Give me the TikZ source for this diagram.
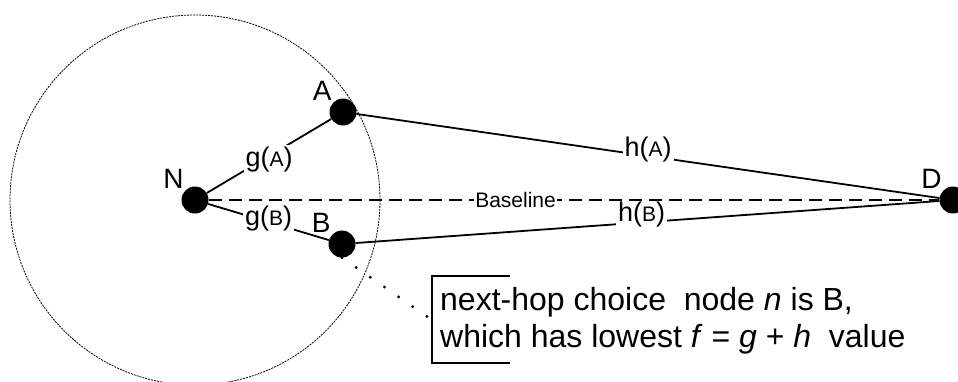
\documentclass[tikz,border=0pt]{standalone}
\usepackage{fontspec}
\setmainfont{Liberation Sans}

\newcommand{\costof}[2]{#1({\fontsize{21}{21}\selectfont #2})}

\begin{document}
\begin{tikzpicture}[x=1pt, y=-1pt,
		hop/.style={circle, fill=black, inner sep=0pt, minimum size=27pt},
		hoptag/.style={font=\fontsize{28}{28}\selectfont, inner sep=1.5pt},
		costline/.style={line width=1.8pt},
		cost/.style={fill=white, inner sep=2pt, font=\fontsize{27}{27}\selectfont},
		reach/.style={line width=0.8pt, dash pattern=on 2pt off 1pt},
		baseln/.style={line width=1.4pt, dash pattern=on 13pt off 7pt},
		hint/.style={line width=3.2pt, line cap=round, dash pattern=on 0pt off 17.2pt}]
		\useasboundingbox (0,0) rectangle (958,381);

		% Nodes
		\node (N) [hop, label={[hoptag]above left:N}] at (195,200) {};
		\node (A) [hop, label={[hoptag]above left:A}] at (343,112) {};
		\node (B) [hop, label={[hoptag]above left:B}] at (342,244) {};
		\node (D) [hop, label={[hoptag]above left:D}] at (953,200) {};

		% Neighbourhood of N
		\draw[reach] (N.center) circle[radius=185];

		% Costs
		\draw[costline] (N) -- node[cost, yshift=-4pt] {\costof{g}{A}} (A);
		\draw[costline] (N) -- node[cost, yshift=3pt] {\costof{g}{B}} (B);
		\draw[costline] (A) -- node[cost, yshift=6pt] {\costof{h}{A}} (D);
		\draw[costline] (B) -- node[cost, xshift=-6pt, yshift=7pt] {\costof{h}{B}} (D);

		% Baseline
		\draw[baseln] (N) -- node[pos=0.42, fill=white, inner sep=1pt, font=\fontsize{21}{21}\selectfont] {Baseline} (D);

		% Note
		\node (note) [anchor=west, align=left, inner sep=0pt, font=\fontsize{32}{37}\selectfont] at (440,321) {next-hop choice\ \ node \textit{n} is B,\\which has lowest \textit{f} = \textit{g} + \textit{h}\ \ value};
		\draw[line width=1.4pt] (510,276) -- (432,276) -- (432,363) -- (510,363);
		\coordinate (brk) at (432,320);
		\draw[hint] (B.south) -- (brk);
	\end{tikzpicture}
\end{document}
